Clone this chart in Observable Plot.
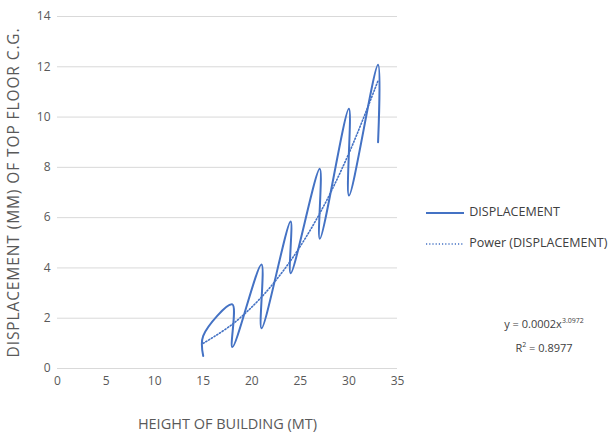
<!DOCTYPE html>
<html>
<head>
<meta charset="utf-8">
<script src="https://cdn.jsdelivr.net/npm/d3@7"></script>
<script src="https://cdn.jsdelivr.net/npm/@observablehq/plot@0.6"></script>
<style>
  html, body { margin: 0; padding: 0; background: #fff; }
  #wrap { position: relative; width: 608px; height: 435px; font-family: "Open Sans", sans-serif; color: #595959; }
  .leg { position: absolute; font-size: 12.5px; color: #404040; white-space: nowrap; }
  .eq { position: absolute; font-size: 11px; color: #404040; white-space: nowrap; text-align: center; width: 120px; }
  sup { font-size: 7px; }
</style>
</head>
<body>
<div id="wrap"></div>
<script>
// Data
const heights = [15, 15, 18, 18, 21, 21, 24, 24, 27, 27, 30, 30, 33, 33];
const displacement = [0.5, 1.3, 2.55, 0.85, 4.14, 1.6, 5.85, 3.79, 7.94, 5.16, 10.33, 6.88, 12.08, 9.0];
const trendHeights = [15, 18, 21, 24, 27, 30, 33];
const trendValues = [1.0, 1.76, 2.84, 4.29, 6.17, 8.56, 11.45];
const xTicks = [0, 5, 10, 15, 20, 25, 30, 35];
const yTicks = [0, 2, 4, 6, 8, 10, 12, 14];
const seriesName = "DISPLACEMENT";
const trendName = "Power (DISPLACEMENT)";
const equation = "y = 0.0002x";
const exponent = "3.0972";
const r2 = "0.8977";

const data = heights.map((h, i) => ({h, d: displacement[i]}));
const trend = trendHeights.map((h, i) => ({h, d: trendValues[i]}));

const chart = Plot.plot({
  width: 608,
  height: 435,
  marginLeft: 57,
  marginRight: 211,
  marginTop: 16,
  marginBottom: 67,
  style: {fontFamily: "'Open Sans', sans-serif", fontSize: "12px", color: "#595959", background: "#fff"},
  x: {domain: [0, 35], ticks: xTicks},
  y: {domain: [0, 14], ticks: yTicks},
  marks: [
    Plot.gridY(yTicks, {stroke: "#d9d9d9", strokeOpacity: 1, strokeWidth: 1}),
    Plot.axisX({ticks: xTicks, tickSize: 0, tickPadding: 8, label: "HEIGHT OF BUILDING (MT)", labelAnchor: "center", labelArrow: false, labelOffset: 60, fontSize: 12}),
    Plot.axisY({ticks: yTicks, tickSize: 0, tickPadding: 7, label: "DISPLACEMENT (MM) OF TOP FLOOR C.G.", labelAnchor: "center", labelArrow: false, labelOffset: 50, fontSize: 12}),
    Plot.line(trend, {x: "h", y: "d", stroke: "#4472c4", strokeWidth: 1.6, strokeDasharray: "1.2,2", curve: "catmull-rom"}),
    Plot.line(data, {x: "h", y: "d", stroke: "#4472c4", strokeWidth: 2, curve: "catmull-rom"})
  ]
});
d3.select(chart).selectAll("[aria-label='x-axis label'] text").style("font-size", "14.5px");
d3.select(chart).selectAll("[aria-label='y-axis label'] text").style("font-size", "15.5px").style("letter-spacing", "0.9px");

const wrap = document.getElementById("wrap");
wrap.appendChild(chart);

const l1 = document.createElement("div");
l1.className = "leg";
l1.style.left = "426px"; l1.style.top = "203px";
l1.innerHTML = `<svg width="40" height="10" style="vertical-align:middle"><line x1="0" y1="5" x2="38" y2="5" stroke="#4472c4" stroke-width="2"/></svg> ${seriesName}`;
wrap.appendChild(l1);

const l2 = document.createElement("div");
l2.className = "leg";
l2.style.left = "426px"; l2.style.top = "234px";
l2.innerHTML = `<svg width="40" height="10" style="vertical-align:middle"><line x1="0" y1="5" x2="38" y2="5" stroke="#4472c4" stroke-width="1.4" stroke-dasharray="1.2,2"/></svg> ${trendName}`;
wrap.appendChild(l2);

const e1 = document.createElement("div");
e1.className = "eq";
e1.style.left = "484px"; e1.style.top = "316px";
e1.innerHTML = `${equation}<sup>${exponent}</sup>`;
wrap.appendChild(e1);

const e2 = document.createElement("div");
e2.className = "eq";
e2.style.left = "484px"; e2.style.top = "340px";
e2.innerHTML = `R<sup>2</sup> = ${r2}`;
wrap.appendChild(e2);
</script>
</body>
</html>
